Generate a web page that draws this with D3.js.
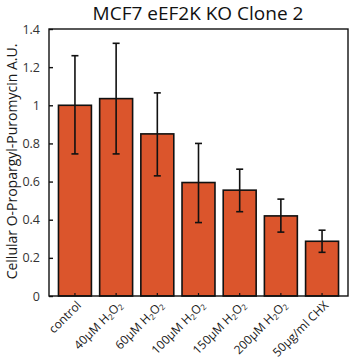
<!DOCTYPE html>
<html>
<head>
<meta charset="utf-8">
<script src="https://cdn.jsdelivr.net/npm/d3@7"></script>
<style>
  body { margin: 0; background: #fff; }
  text { font-family: "Open Sans", "Noto Sans", sans-serif; }
</style>
</head>
<body>
<script>
var w = 352;
var h = 360;
var margin = { top: 29, right: 4, bottom: 64, left: 49 };

// data
var doses = ["control", "40μM", "60μM", "100μM", "150μM", "200μM", "50μg/ml CHX"];
var values = [1.0, 1.035, 0.85, 0.595, 0.555, 0.42, 0.287];
var errHigh = [1.26, 1.325, 1.065, 0.80, 0.665, 0.508, 0.345];
var errLow = [0.745, 0.745, 0.63, 0.385, 0.442, 0.335, 0.229];
var yTicks = [0, 0.2, 0.4, 0.6, 0.8, 1, 1.2, 1.4];

var svg = d3.select("body").append("svg").attr("width", w).attr("height", h);

var xScale = d3.scaleBand()
    .domain(doses)
    .range([margin.left, w - margin.right])
    .paddingInner(0.2)
    .paddingOuter(0.23);

var yScale = d3.scaleLinear()
    .domain([0, 1.4])
    .range([h - margin.bottom, margin.top]);

// bars
svg.selectAll("rect.bar")
    .data(values).enter()
    .append("rect")
    .attr("class", "bar")
    .attr("x", (d, i) => xScale(doses[i]))
    .attr("y", d => yScale(d))
    .attr("width", xScale.bandwidth())
    .attr("height", d => yScale(0) - yScale(d))
    .attr("fill", "#db552c")
    .attr("stroke", "#111")
    .attr("stroke-width", 1.6);

// error bars
var cx = i => xScale(doses[i]) + xScale.bandwidth() / 2;
var err = svg.append("g").attr("stroke", "#111").attr("stroke-width", 1.6);
doses.forEach((d, i) => {
    err.append("line")
        .attr("x1", cx(i)).attr("x2", cx(i))
        .attr("y1", yScale(errLow[i])).attr("y2", yScale(errHigh[i]));
    [errLow[i], errHigh[i]].forEach(v => {
        err.append("line")
            .attr("x1", cx(i) - 3.5).attr("x2", cx(i) + 3.5)
            .attr("y1", yScale(v)).attr("y2", yScale(v));
    });
});

// frame
svg.append("rect")
    .attr("x", margin.left)
    .attr("y", margin.top)
    .attr("width", w - margin.right - margin.left)
    .attr("height", h - margin.bottom - margin.top)
    .attr("fill", "none")
    .attr("stroke", "#111")
    .attr("stroke-width", 1.4);

// y axis, ticks pointing inwards
var yAxis = d3.axisLeft(yScale)
    .tickValues(yTicks)
    .tickSizeInner(-4)
    .tickSizeOuter(0)
    .tickPadding(9)
    .tickFormat(d3.format("~g"));

var gy = svg.append("g")
    .attr("transform", "translate(" + margin.left + ",0)")
    .call(yAxis);
gy.select(".domain").remove();
gy.selectAll("line").attr("stroke", "#111").attr("stroke-width", 1.4);
gy.selectAll("text").attr("font-size", "12.5px").attr("fill", "#333");

// x axis
var xAxis = d3.axisBottom(xScale)
    .tickSizeInner(-3)
    .tickSizeOuter(0)
    .tickFormat("");

var gx = svg.append("g")
    .attr("transform", "translate(0," + (h - margin.bottom) + ")")
    .call(xAxis);
gx.select(".domain").remove();
gx.selectAll("line").attr("stroke", "#111").attr("stroke-width", 1.2);

// x labels, rotated
doses.forEach((d, i) => {
    var t = svg.append("text")
        .attr("transform", "translate(" + (cx(i) + 7) + "," + (h - margin.bottom + 10) + ") rotate(-45)")
        .attr("text-anchor", "end")
        .attr("font-size", "12px")
        .attr("fill", "#1a1a1a");
    if (i === 0 || i === doses.length - 1) {
        t.text(d);
    } else {
        t.append("tspan").text(d + " H");
        t.append("tspan").attr("font-size", "8px").attr("dy", 2).text("2");
        t.append("tspan").attr("dy", -2).text("O");
        t.append("tspan").attr("font-size", "8px").attr("dy", 2).text("2");
    }
});

// y label
svg.append("text")
    .attr("transform", "translate(16.5," + ((margin.top + h - margin.bottom) / 2 - 1) + ") rotate(-90)")
    .attr("text-anchor", "middle")
    .attr("font-size", "14px")
    .attr("fill", "#1a1a1a")
    .text("Cellular O-Propargyl-Puromycin A.U.");

// title
svg.append("text")
    .attr("x", 198)
    .attr("y", 20)
    .attr("text-anchor", "middle")
    .attr("font-size", "19px")
    .attr("fill", "#111")
    .text("MCF7 eEF2K KO Clone 2");
</script>
</body>
</html>
